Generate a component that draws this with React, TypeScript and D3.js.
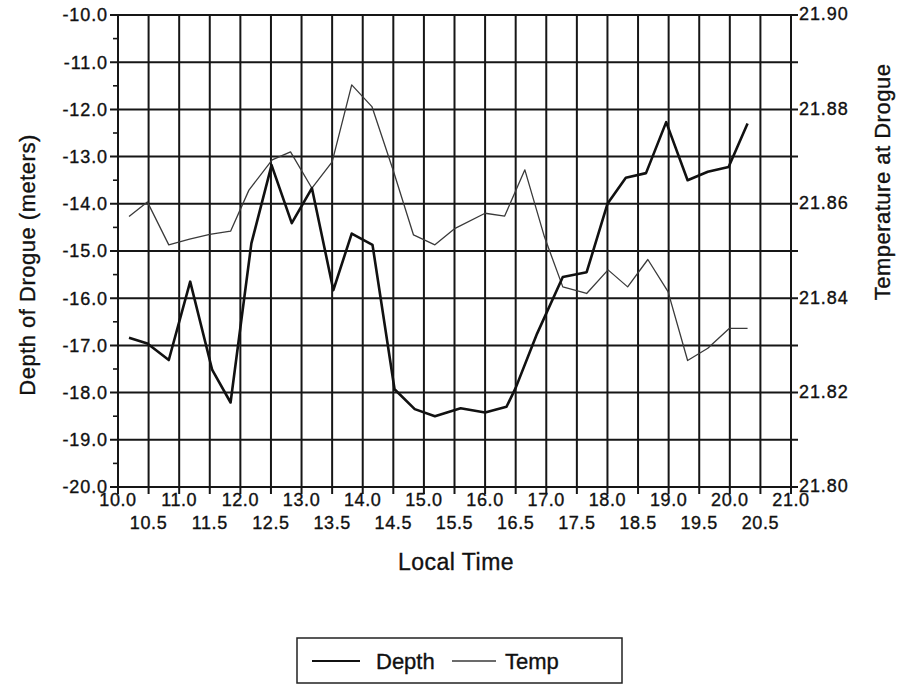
import React from "react";
import * as d3 from "d3";

const depthTime = [10.18, 10.48, 10.83, 11.18, 11.54, 11.84, 12.18, 12.51, 12.84, 13.17, 13.52, 13.82, 14.16, 14.52, 14.85, 15.18, 15.6, 16.0, 16.35, 16.5, 16.85, 17.27, 17.66, 18.0, 18.3, 18.63, 18.96, 19.31, 19.64, 19.98, 20.29];
const depthVal = [-16.84, -16.96, -17.31, -15.65, -17.52, -18.21, -14.84, -13.18, -14.41, -13.67, -15.83, -14.63, -14.87, -17.93, -18.35, -18.5, -18.33, -18.42, -18.3, -17.9, -16.75, -15.55, -15.45, -14.0, -13.45, -13.35, -12.27, -13.5, -13.32, -13.22, -12.3];

const tempTime = [10.18, 10.48, 10.83, 11.17, 11.5, 11.84, 12.14, 12.52, 12.82, 13.17, 13.5, 13.82, 14.15, 14.5, 14.83, 15.18, 15.51, 16.0, 16.32, 16.65, 16.97, 17.27, 17.66, 18.01, 18.33, 18.66, 18.99, 19.31, 19.64, 19.99, 20.29];
const tempVal = [21.8573, 21.8604, 21.8513, 21.8525, 21.8535, 21.8542, 21.8629, 21.8693, 21.871, 21.8633, 21.8689, 21.8852, 21.8806, 21.867, 21.8534, 21.8513, 21.8548, 21.858, 21.8574, 21.8672, 21.853, 21.8424, 21.841, 21.846, 21.8424, 21.8482, 21.8414, 21.8268, 21.8294, 21.8336, 21.8336];

const xMajorTicks = ["10.0", "11.0", "12.0", "13.0", "14.0", "15.0", "16.0", "17.0", "18.0", "19.0", "20.0", "21.0"];
const xMinorTicks = ["10.5", "11.5", "12.5", "13.5", "14.5", "15.5", "16.5", "17.5", "18.5", "19.5", "20.5"];
const depthTicks = ["-10.0", "-11.0", "-12.0", "-13.0", "-14.0", "-15.0", "-16.0", "-17.0", "-18.0", "-19.0", "-20.0"];
const tempTicks = ["21.90", "21.88", "21.86", "21.84", "21.82", "21.80"];

const L = 118, R = 791, T = 15, B = 487;
const FONT = "'Liberation Sans', Arial, Helvetica, sans-serif";

export default function App() {
  const x = d3.scaleLinear().domain([10, 21]).range([L, R]);
  const y = d3.scaleLinear().domain([-20, -10]).range([B, T]);
  const yT = d3.scaleLinear().domain([21.8, 21.9]).range([B, T]);

  const depthLine = d3.line<number>().x((_, i) => x(depthTime[i])).y((v) => y(v));
  const tempLine = d3.line<number>().x((_, i) => x(tempTime[i])).y((v) => yT(v));

  const halfHours = d3.range(0, 23).map((i) => 10 + i * 0.5);
  const meters = d3.range(0, 11).map((i) => -10 - i);
  const halfMeters = d3.range(0, 10).map((i) => -10.5 - i);
  const gridCol = "#161616";
  const txt = { fill: "#111", stroke: "#111", strokeWidth: 0.35 };

  return (
    <svg width={904} height={694} style={{ position: "absolute", left: 0, top: 0, background: "#fff" }} fontFamily={FONT}>
      <rect x={0} y={0} width={904} height={694} fill="#fff" />
      {halfHours.map((h) => (
        <line key={"v" + h} x1={x(h)} x2={x(h)} y1={T} y2={B + 7} stroke={gridCol} strokeWidth={2} />
      ))}
      {meters.map((m) => (
        <line key={"h" + m} x1={L - 8} x2={R + 7} y1={y(m)} y2={y(m)} stroke={gridCol} strokeWidth={2} />
      ))}
      {halfMeters.map((m) => (
        <line key={"hm" + m} x1={L - 5} x2={L} y1={y(m)} y2={y(m)} stroke={gridCol} strokeWidth={1.6} />
      ))}
      {depthTicks.map((t) => (
        <text key={t} x={L - 10} y={y(+t)} dy="0.36em" textAnchor="end" fontSize={18} letterSpacing={0.9} {...txt}>{t}</text>
      ))}
      {tempTicks.map((t) => (
        <text key={t} x={R + 8} y={yT(+t)} dy="0.3em" textAnchor="start" fontSize={18} letterSpacing={0.9} {...txt}>{t}</text>
      ))}
      {xMajorTicks.map((t) => (
        <text key={t} x={x(+t)} y={B + 19} textAnchor="middle" fontSize={18} letterSpacing={0.6} {...txt}>{t}</text>
      ))}
      {xMinorTicks.map((t) => (
        <text key={t} x={x(+t)} y={B + 42} textAnchor="middle" fontSize={18} letterSpacing={0.6} {...txt}>{t}</text>
      ))}
      <text x={456} y={570} textAnchor="middle" fontSize={23} letterSpacing={0.5} {...txt}>Local Time</text>
      <text transform={`translate(35,265) rotate(-90)`} textAnchor="middle" fontSize={22} letterSpacing={0.5} {...txt}>Depth of Drogue (meters)</text>
      <text transform={`translate(890,182) rotate(-90)`} textAnchor="middle" fontSize={22} letterSpacing={0.5} {...txt}>Temperature at Drogue</text>
      <path d={tempLine(tempVal) || ""} fill="none" stroke="#3a3a3a" strokeWidth={1.3} strokeLinejoin="round" />
      <path d={depthLine(depthVal) || ""} fill="none" stroke="#111" strokeWidth={2.6} strokeLinejoin="round" />
      <rect x={297} y={638} width={325} height={45} fill="none" stroke="#222" strokeWidth={1.5} />
      <line x1={312} x2={360} y1={661} y2={661} stroke="#111" strokeWidth={2} />
      <text x={376} y={669} fontSize={22} {...txt}>Depth</text>
      <line x1={452} x2={496} y1={661} y2={661} stroke="#3a3a3a" strokeWidth={1.3} />
      <text x={505} y={669} fontSize={22} {...txt}>Temp</text>
    </svg>
  );
}
